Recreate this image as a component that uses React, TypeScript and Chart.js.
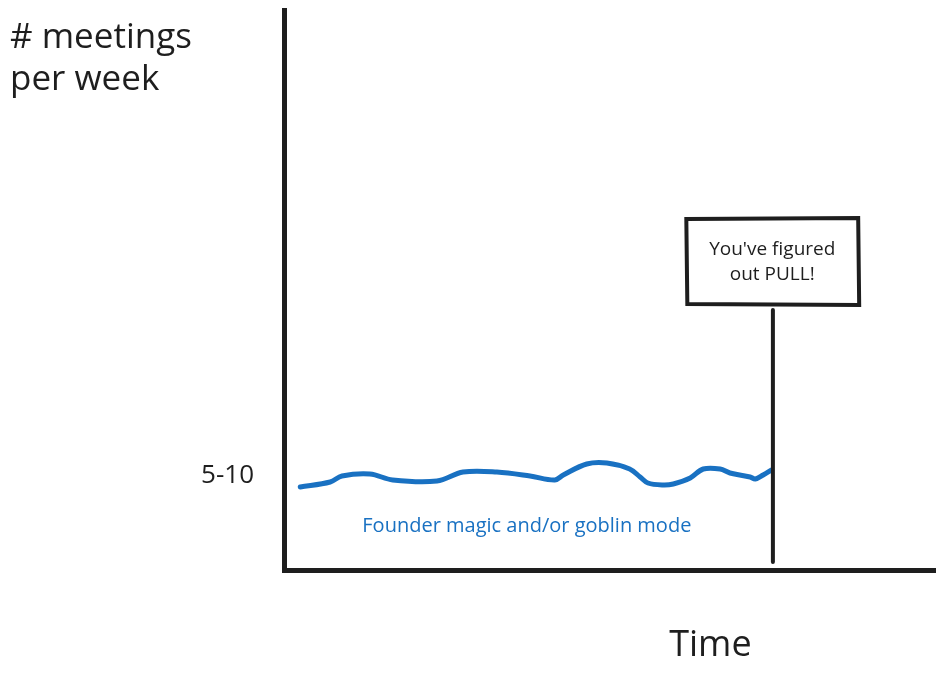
import React, { useEffect, useRef } from "react";
import { Chart, registerables } from "chart.js";

Chart.register(...registerables);

// Data: time (arbitrary units 0..100) vs meetings level (arbitrary units)
const timeValues = [2.5, 7.1, 8.9, 13.2, 16.7, 23.5, 27.5, 32.7, 37.8, 41.6, 42.9, 46.5, 49.6, 53.1, 54.7, 55.9, 58.2, 59.8, 62.4, 64.4, 67.0, 68.5, 71.6, 72.4, 73.6, 74.9];
const meetingValues = [8.3, 8.8, 9.4, 9.6, 9.0, 8.9, 9.8, 9.8, 9.4, 9.0, 9.5, 10.6, 10.7, 10.1, 9.3, 8.7, 8.5, 8.6, 9.2, 10.1, 10.1, 9.7, 9.3, 9.1, 9.5, 10.0];
const yTickValues = [9.4];
const yTickLabels = ["5-10"];
const yTitleLines = ["# meetings", "per week"];
const xTitle = "Time";
const lineLabel = "Founder magic and/or goblin mode";
const signLines = ["You've figured", "out PULL!"];

// annotation anchors in data units
const signPostX = 75.1;
const signPostBottom = 0.8;
const signBox = { x0: 61.8, x1: 88.2, y0: 26.5, y1: 35.2 };
const lineLabelPos = { x: 37.3, y: 4.4 };
const xTitlePos = { x: 65.5 };

const INK = "#1e1e1e";
const BLUE = "#1971c2";
const FONT = "'Open Sans', 'Noto Sans', sans-serif";

const annotations = {
  id: "sketchAnnotations",
  afterDraw(chart: any) {
    const ctx = chart.ctx;
    const xs = chart.scales.x;
    const ys = chart.scales.y;
    ctx.save();
    // y title
    ctx.fillStyle = INK;
    ctx.font = `35px ${FONT}`;
    ctx.textAlign = "left";
    ctx.textBaseline = "middle";
    yTitleLines.forEach((t, i) => ctx.fillText(t, 10, 38 + i * 42));
    // x title
    ctx.font = `36px ${FONT}`;
    ctx.textAlign = "center";
    ctx.fillText(xTitle, xs.getPixelForValue(xTitlePos.x), 646);
    // line label
    ctx.fillStyle = BLUE;
    ctx.font = `20px ${FONT}`;
    ctx.fillText(lineLabel, xs.getPixelForValue(lineLabelPos.x), ys.getPixelForValue(lineLabelPos.y));
    // sign post
    ctx.strokeStyle = INK;
    ctx.lineCap = "round";
    ctx.lineWidth = 4;
    const px = xs.getPixelForValue(signPostX);
    ctx.beginPath();
    ctx.moveTo(px, ys.getPixelForValue(signBox.y0) + 5);
    ctx.lineTo(px, ys.getPixelForValue(signPostBottom));
    ctx.stroke();
    // sign box
    const bx0 = xs.getPixelForValue(signBox.x0);
    const bx1 = xs.getPixelForValue(signBox.x1);
    const by0 = ys.getPixelForValue(signBox.y1);
    const by1 = ys.getPixelForValue(signBox.y0);
    ctx.fillStyle = "#ffffff";
    ctx.fillRect(bx0, by0, bx1 - bx0, by1 - by0);
    ctx.lineWidth = 4;
    ctx.beginPath();
    ctx.moveTo(bx0, by0 + 1);
    ctx.lineTo(bx1, by0);
    ctx.lineTo(bx1 + 1, by1);
    ctx.lineTo(bx0 + 1, by1 - 1);
    ctx.closePath();
    ctx.stroke();
    ctx.fillStyle = INK;
    ctx.font = `19px ${FONT}`;
    const cx = (bx0 + bx1) / 2;
    signLines.forEach((t, i) => ctx.fillText(t, cx, by0 + 32 + i * 25));
    ctx.restore();
  },
};

export default function App() {
  const ref = useRef<HTMLCanvasElement>(null);
  useEffect(() => {
    if (!ref.current) return;
    const chart = new Chart(ref.current, {
      type: "line",
      data: {
        datasets: [
          {
            label: lineLabel,
            data: timeValues.map((x, i) => ({ x, y: meetingValues[i] })),
            borderColor: BLUE,
            borderWidth: 5,
            pointRadius: 0,
            tension: 0.35,
            borderCapStyle: "round",
            borderJoinStyle: "round",
          },
        ],
      },
      options: {
        responsive: false,
        animation: false,
        layout: { padding: { left: 0, right: 9, top: 10, bottom: 0 } },
        plugins: { legend: { display: false }, tooltip: { enabled: false } },
        scales: {
          x: {
            type: "linear",
            min: 0,
            max: 100,
            ticks: { display: false },
            grid: { display: false, drawTicks: false },
            border: { display: true, color: INK, width: 5 },
            afterFit: (s: any) => {
              s.height = 110;
              s.paddingLeft = 0;
              s.paddingRight = 0;
            },
          },
          y: {
            type: "linear",
            min: 0,
            max: 56,
            afterBuildTicks: (s: any) => {
              s.ticks = yTickValues.map((v) => ({ value: v }));
            },
            ticks: {
              callback: (_v: any, i: number) => yTickLabels[i],
              color: INK,
              font: { family: FONT, size: 26 },
              padding: 30,
            },
            grid: { display: false, drawTicks: false },
            border: { display: true, color: INK, width: 5 },
            afterFit: (s: any) => {
              s.width = 284;
              s.paddingTop = 0;
              s.paddingBottom = 0;
            },
          },
        },
      },
      plugins: [annotations],
    });
    return () => chart.destroy();
  }, []);
  return (
    <div style={{ position: "absolute", left: 0, top: 0, width: 944, height: 680, background: "#fff" }}>
      <canvas ref={ref} width={944} height={680} />
    </div>
  );
}
